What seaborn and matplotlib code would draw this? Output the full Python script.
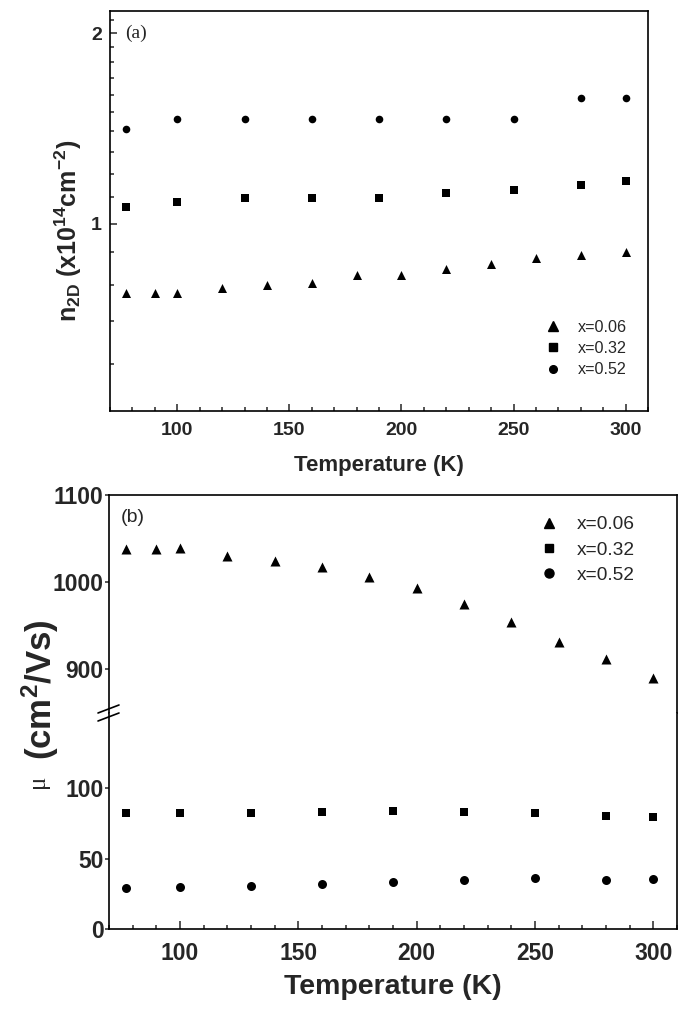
import pandas as pd
import seaborn as sns
import matplotlib.pyplot as plt
from matplotlib.lines import Line2D

# --- data ---
labels = ["x=0.06", "x=0.32", "x=0.52"]
markers = ["^", "s", "o"]

# (a) sheet carrier density (x10^14 cm^-2)
t_a_006 = [77, 90, 100, 120, 140, 160, 180, 200, 220, 240, 260, 280, 300]
n_a_006 = [0.777, 0.777, 0.777, 0.791, 0.798, 0.805, 0.830, 0.830, 0.848, 0.864, 0.882, 0.892, 0.901]
t_a_032 = [77, 100, 130, 160, 190, 220, 250, 280, 300]
n_a_032 = [1.061, 1.081, 1.098, 1.098, 1.098, 1.118, 1.129, 1.149, 1.167]
t_a_052 = [77, 100, 130, 160, 190, 220, 250, 280, 300]
n_a_052 = [1.414, 1.465, 1.465, 1.465, 1.465, 1.465, 1.465, 1.582, 1.582]

# (b) mobility (cm^2/Vs)
t_b_006 = [77, 90, 100, 120, 140, 160, 180, 200, 220, 240, 260, 280, 300]
mu_b_006 = [1037.5, 1037.5, 1039.5, 1030, 1024.5, 1017.5, 1005.5, 993.5, 974.5, 953.5, 931.5, 911, 889.5]
t_b_032 = [77, 100, 130, 160, 190, 220, 250, 280, 300]
mu_b_032 = [82, 82, 82, 83.2, 83.9, 83.2, 82, 80.4, 79.2]
t_b_052 = [77, 100, 130, 160, 190, 220, 250, 280, 300]
mu_b_052 = [29.3, 30, 30.5, 31.9, 33.6, 34.8, 36.2, 34.8, 35.5]

sns.set_theme(style="ticks")
plt.rcParams['font.family'] = ['Liberation Sans', 'DejaVu Sans']
plt.rcParams['mathtext.fontset'] = 'custom'
plt.rcParams['mathtext.rm'] = 'Liberation Sans:bold'
plt.rcParams['mathtext.bf'] = 'Liberation Sans:bold'
plt.rcParams['mathtext.it'] = 'Liberation Sans:bold'
plt.rcParams['mathtext.default'] = 'rm'

W, H = 685, 1017
fig = plt.figure(figsize=(W / 100, H / 100), dpi=100)


def box(l, t, r, b):
    return [l / W, 1 - b / H, (r - l) / W, (b - t) / H]


ax_a = fig.add_axes(box(110, 11, 648, 411))
ax_hi = fig.add_axes(box(109, 495, 677, 713))
ax_lo = fig.add_axes(box(109, 713, 677, 929))

for ax in (ax_a, ax_hi, ax_lo):
    for sp in ax.spines.values():
        sp.set_linewidth(1.2)
        sp.set_color("black")

# ---------------- panel (a) ----------------
ax_a.set_yscale("log")
series_a = [(t_a_006, n_a_006, 42), (t_a_032, n_a_032, 26), (t_a_052, n_a_052, 30)]
for (t, v, s), m in zip(series_a, markers):
    sns.scatterplot(x=t, y=v, marker=m, s=s, color="black", linewidth=0, ax=ax_a)

ax_a.set_xlim(70, 310)
ax_a.set_ylim(0.505, 2.17)
ax_a.set_xticks([100, 150, 200, 250, 300], labels=["100", "150", "200", "250", "300"],
                fontsize=14, fontweight="bold")
ax_a.set_xticks(range(70, 311, 10), minor=True)
ax_a.set_yticks([1, 2], labels=["1", "2"], fontsize=14, fontweight="bold")
ax_a.set_yticks([0.6, 0.7, 0.8, 0.9, 1.1, 1.2, 1.3, 1.4, 1.5, 1.6, 1.7, 1.8, 1.9, 2.1],
                labels=[""] * 14, minor=True)
ax_a.tick_params(which="both", direction="in", top=False, right=False, width=1.1)
ax_a.tick_params(which="major", length=5)
ax_a.tick_params(axis="x", which="major", pad=8)
ax_a.tick_params(axis="y", which="major", pad=6)
ax_a.tick_params(which="minor", length=2.7)
ax_a.set_xlabel("")
ax_a.set_ylabel("")
ax_a.text(0.028, 0.945, "(a)", transform=ax_a.transAxes, fontsize=14,
          family=["Liberation Serif", "DejaVu Serif"], va="center")

handles = [Line2D([], [], marker=m, ls="", color="black", markersize=ms)
           for m, ms in zip(markers, [6.5, 5.2, 5.5])]
ax_a.legend(handles, labels, loc="center left", bbox_to_anchor=(0.809, 0.156),
            frameon=False, fontsize=11.6, handlelength=1.0, handletextpad=1.0,
            labelspacing=0.39, borderpad=0, borderaxespad=0)

fig.text(0.5 * (110 + 648) / W, 1 - 465 / H, "Temperature (K)", ha="center", va="center",
         fontsize=16, fontweight="bold")
fig.text(68 / W, 1 - 231 / H, "n$_{2D}$ (x10$^{14}$cm$^{-2}$)", rotation=90,
         ha="center", va="center", fontsize=18, fontweight="bold")

# ---------------- panel (b), broken axis ----------------
series_b = [(t_b_006, mu_b_006, 52), (t_b_032, mu_b_032, 34), (t_b_052, mu_b_052, 42)]
for ax in (ax_hi, ax_lo):
    for (t, v, s), m in zip(series_b, markers):
        sns.scatterplot(x=t, y=v, marker=m, s=s, color="black", linewidth=0, ax=ax)
    ax.set_xlim(70, 310)
    ax.set_xlabel("")
    ax.set_ylabel("")

ax_hi.set_ylim(849.4, 1100)
ax_lo.set_ylim(0, 153.2)
ax_hi.spines["bottom"].set_visible(False)
ax_lo.spines["top"].set_visible(False)

ax_hi.set_yticks([900, 1000, 1100], labels=["900", "1000", "1100"], fontsize=16.5, fontweight="bold")
ax_lo.set_yticks([0, 50, 100], labels=["0", "50", "100"], fontsize=16.5, fontweight="bold")
ax_hi.tick_params(axis="x", which="both", bottom=False, top=False, labelbottom=False)
ax_lo.set_xticks([100, 150, 200, 250, 300], labels=["100", "150", "200", "250", "300"],
                 fontsize=16.5, fontweight="bold")
ax_lo.set_xticks(range(70, 311, 10), minor=True)
ax_lo.tick_params(axis="x", which="both", direction="in", top=False, width=1.1, pad=9)
ax_lo.tick_params(axis="x", which="major", length=6)
ax_lo.tick_params(axis="x", which="minor", length=3)
for ax in (ax_hi, ax_lo):
    ax.tick_params(axis="y", which="major", direction="out", length=3, width=1.1, pad=1, right=False)
    ax.tick_params(axis="y", which="minor", left=False, right=False)

# break marks on the left spine
for dy in (-4, 4):
    y0 = 1 - (713 + dy + 4) / H
    y1 = 1 - (713 + dy - 4) / H
    fig.add_artist(Line2D([98 / W, 119 / W], [y0, y1], color="black", lw=1.2,
                          transform=fig.transFigure))

ax_hi.text(0.02, 0.899, "(b)", transform=ax_hi.transAxes, fontsize=14, va="center")

handles_b = [Line2D([], [], marker=m, ls="", color="black", markersize=ms)
             for m, ms in zip(markers, [7.2, 5.8, 6.5])]
ax_hi.legend(handles_b, labels, loc="center left", bbox_to_anchor=(0.758, 0.748),
             frameon=False, fontsize=13.8, handlelength=1.0, handletextpad=0.96,
             labelspacing=0.41, borderpad=0, borderaxespad=0)

fig.text(0.5 * (109 + 677) / W, 1 - 987 / H, "Temperature (K)", ha="center", va="center",
         fontsize=20.5, fontweight="bold")
fig.text(40 / W, 1 - 690 / H, "(cm$^{2}$/Vs)", rotation=90, ha="center", va="center",
         fontsize=25, fontweight="bold")
fig.text(38 / W, 1 - 781 / H, "μ", rotation=90, ha="center", va="center",
         fontsize=18, family=["Liberation Serif", "DejaVu Serif"])

fig.savefig("out.png", dpi=100)
